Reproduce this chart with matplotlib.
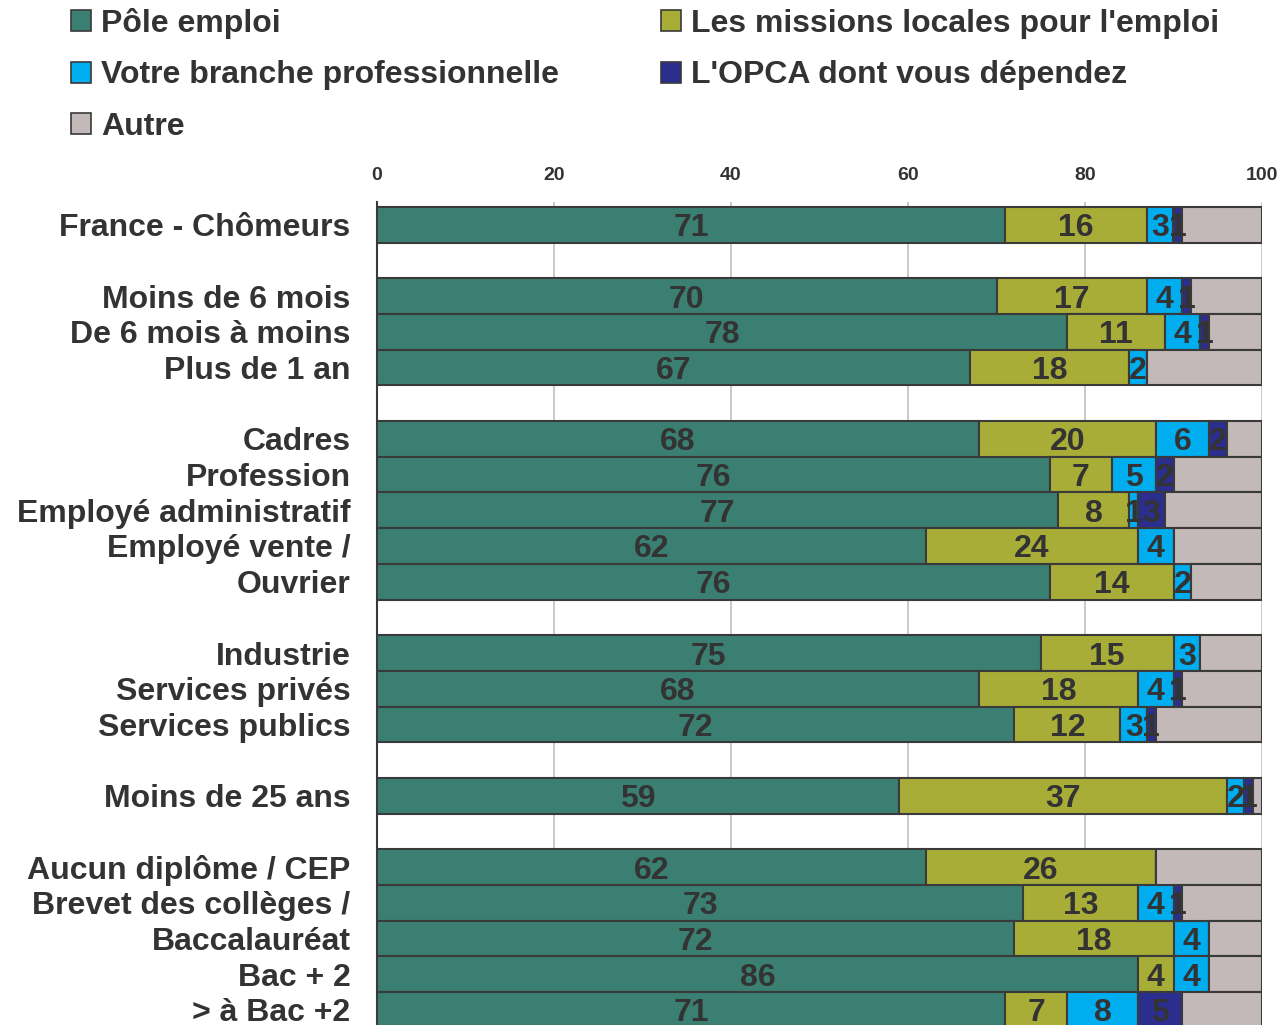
import numpy as np
import matplotlib.pyplot as plt
from matplotlib.patches import Patch

plt.rcParams['font.family'] = ['Liberation Sans', 'DejaVu Sans']
plt.rcParams['font.weight'] = 'bold'

# groupes de lignes (une ligne vide entre chaque groupe)
groupes = [
    ["France - Chômeurs"],
    ["Moins de 6 mois", "De 6 mois à moins", "Plus de 1 an"],
    ["Cadres", "Profession", "Employé administratif", "Employé vente /", "Ouvrier"],
    ["Industrie", "Services privés", "Services publics"],
    ["Moins de 25 ans"],
    ["Aucun diplôme / CEP", "Brevet des collèges /", "Baccalauréat", "Bac + 2", "> à Bac +2"],
]

pole     = [71, 70, 78, 67, 68, 76, 77, 62, 76, 75, 68, 72, 59, 62, 73, 72, 86, 71]
missions = [16, 17, 11, 18, 20, 7, 8, 24, 14, 15, 18, 12, 37, 26, 13, 18, 4, 7]
branche  = [3, 4, 4, 2, 6, 5, 1, 4, 2, 3, 4, 3, 2, 0, 4, 4, 4, 8]
opca     = [1, 1, 1, 0, 2, 2, 3, 0, 0, 0, 1, 1, 1, 0, 1, 0, 0, 5]
autre    = [9, 8, 6, 13, 4, 10, 11, 10, 8, 7, 9, 12, 1, 12, 9, 6, 6, 9]

noms = ["Pôle emploi", "Votre branche professionnelle", "Autre",
        "Les missions locales pour l'emploi", "L'OPCA dont vous dépendez"]

c_pole = '#3a7f72'
c_miss = '#a8ad37'
c_bran = '#00aeef'
c_opca = '#2b2e8c'
c_autre = '#c3b9b8'
texte = '#333333'

# positions des lignes
positions = []
labels = []
y = 0
for g in groupes:
    for nom in g:
        positions.append(y)
        labels.append(nom)
        y += 1
    y += 1
positions = np.array(positions)

fig = plt.figure(figsize=(12.85, 10.25), dpi=100)
ax = fig.add_axes([377/1285, -0.0027, 885/1285, 0.806])

series = [(pole, c_pole, True), (missions, c_miss, True), (branche, c_bran, True),
          (opca, c_opca, True), (autre, c_autre, False)]
gauche = np.zeros(len(pole))
for vals, couleur, etiquette in series:
    vals = np.array(vals, dtype=float)
    ax.barh(positions, vals, left=gauche, height=1.0, color=couleur,
            edgecolor='#3a3a3a', linewidth=1.5, zorder=3)
    if etiquette:
        for p, g0, v in zip(positions, gauche, vals):
            if v > 0:
                ax.text(g0 + v / 2, p, f"{int(v)}", ha='center', va='center_baseline',
                        fontsize=23, fontweight='bold', color=texte, zorder=4)
    gauche += vals

ax.set_xlim(0, 100)
ax.set_ylim(positions[-1] + 0.5, -0.65)
ax.set_xticks([0, 20, 40, 60, 80, 100])
ax.xaxis.tick_top()
ax.tick_params(axis='x', length=0, pad=13, labelsize=14, labelcolor=texte)
ax.set_yticks(positions)
ax.set_yticklabels(labels)
ax.tick_params(axis='y', length=0, pad=19, labelsize=23, labelcolor=texte)
ax.grid(axis='x', color='#c9bcbc', linewidth=1.2, zorder=0)
ax.set_axisbelow(True)
for s in ['top', 'right', 'bottom']:
    ax.spines[s].set_visible(False)
ax.spines['left'].set_color('#3a3a3a')
ax.spines['left'].set_linewidth(1.5)
ax.spines['left'].set_zorder(5)

poignees = [Patch(facecolor=c, edgecolor='#3a3a3a', linewidth=1.2)
            for c in [c_pole, c_bran, c_autre, c_miss, c_opca]]
fig.legend(poignees, noms, loc='upper left', bbox_to_anchor=(71/1285, 1 - 8/1025),
           ncol=2, frameon=False, fontsize=23, handlelength=0.63, handleheight=0.63,
           handletextpad=0.31, labelspacing=0.67, columnspacing=3.2,
           borderpad=0, borderaxespad=0, labelcolor=texte)

fig.savefig('out.png', dpi=100)
